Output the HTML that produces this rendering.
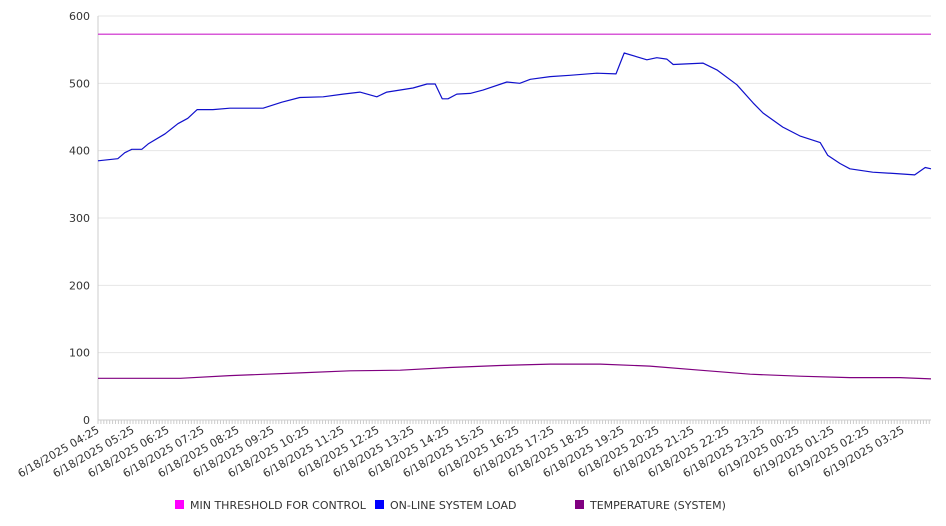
<!DOCTYPE html>
<html><head><meta charset="utf-8"><style>
html,body{margin:0;padding:0;background:#fff;}
svg{display:block;font-family:"DejaVu Sans","Liberation Sans",sans-serif;}
</style></head><body>
<svg id="chart" width="946" height="526" viewBox="0 0 946 526">
<g id="grid"></g>
<g id="yaxis"></g>
<g id="xaxis"></g>
<g id="series"></g>
<g id="legend"></g>
</svg>
<script>
const yTicks = [0,100,200,300,400,500,600];
const xTickLabels = ["6/18/2025 04:25","6/18/2025 05:25","6/18/2025 06:25","6/18/2025 07:25","6/18/2025 08:25","6/18/2025 09:25","6/18/2025 10:25","6/18/2025 11:25","6/18/2025 12:25","6/18/2025 13:25","6/18/2025 14:25","6/18/2025 15:25","6/18/2025 16:25","6/18/2025 17:25","6/18/2025 18:25","6/18/2025 19:25","6/18/2025 20:25","6/18/2025 21:25","6/18/2025 22:25","6/18/2025 23:25","6/19/2025 00:25","6/19/2025 01:25","6/19/2025 02:25","6/19/2025 03:25"];
// minutes since 6/18/2025 04:25
const loadMinutes = [0,34,46,58,75,86,115,137,154,170,197,226,283,315,346,386,420,449,478,495,540,564,578,590,600,615,638,660,701,723,741,775,809,855,888,902,941,958,975,986,1037,1061,1095,1123,1140,1174,1203,1238,1251,1272,1289,1328,1369,1400,1418,1428];
const loadValues = [385,388,397,402,402,410,425,440,448,461,461,463,463,472,479,480,484,487,480,487,493,499,499,477,477,484,485,490,502,500,506,510,512,515,514,545,535,538,536,528,530,520,498,471,456,435,422,412,393,381,373,368,366,364,375,373];
const tempMinutes = [0,141,226,346,432,518,603,689,775,861,946,1032,1118,1203,1289,1375,1428];
const tempValues = [62,62,66,70,73,74,78,81,83,83,80,74,68,65,63,63,61];
const thresholdValue = 573;
const totalMinutes = 1428;

const X0=98, X1=931, Y0=420, Y1=16;
const xs = m => X0 + m*(X1-X0)/totalMinutes;
const ys = v => Y0 - v*(Y0-Y1)/600;
const NS="http://www.w3.org/2000/svg";
function mk(tag, attrs, parent){const e=document.createElementNS(NS,tag);for(const k in attrs)e.setAttribute(k,attrs[k]);parent.appendChild(e);return e;}
const grid=document.getElementById('grid'), yaxis=document.getElementById('yaxis'), xaxis=document.getElementById('xaxis'), series=document.getElementById('series'), legend=document.getElementById('legend');

yTicks.forEach(v=>{
  if(v>0){const g=mk('line',{x1:X0,x2:X1,y1:ys(v),y2:ys(v),stroke:'#e6e6e6','stroke-width':1},grid);
  
  }
  const t=mk('text',{x:90,y:ys(v)+4,'text-anchor':'end','font-size':11,fill:'#333'},yaxis);
  t.textContent=v;
  
  
});
const ax=mk('line',{x1:X0,x2:X0,y1:Y1,y2:Y0,stroke:'#ccc','stroke-width':1},yaxis);


const bx=mk('line',{x1:X0,x2:X1,y1:Y0,y2:Y0,stroke:'#ccc','stroke-width':1},xaxis);


for(let m=0;m<=totalMinutes;m+=5){
  const tk=mk('line',{x1:xs(m),x2:xs(m),y1:Y0,y2:Y0+4,stroke:'#ccc','stroke-width':1},xaxis);
  
  
}
xTickLabels.forEach((s,i)=>{
  const x=xs(i*60)+2, y=Y0+12;
  const t=mk('text',{x:x,y:y,'text-anchor':'end','font-size':11,fill:'#333',transform:`rotate(-30 ${x} ${y})`},xaxis);
  t.textContent=s;
  
  
});

const th=mk('line',{x1:X0,x2:X1,y1:ys(thresholdValue),y2:ys(thresholdValue),stroke:'#cc22cc','stroke-width':1.2},series);


function line(mins,vals,color,name){
  const d=mins.map((m,i)=>(i?'L':'M')+xs(m).toFixed(1)+' '+ys(vals[i]).toFixed(1)).join(' ');
  const p=mk('path',{d:d,fill:'none',stroke:color,'stroke-width':1.2,'stroke-linejoin':'round'},series);
  
  
}
line(loadMinutes,loadValues,'#1010cc','online-system-load-line');
line(tempMinutes,tempValues,'#800080','temperature-line');

[["MIN THRESHOLD FOR CONTROL","#ff00ff",175,'legend-entry-threshold'],["ON-LINE SYSTEM LOAD","#0000ff",375,'legend-entry-load'],["TEMPERATURE (SYSTEM)","#800080",575,'legend-entry-temperature']].forEach(e=>{
  const g=mk('g',{},legend);
  
  
  mk('rect',{x:e[2],y:500,width:9,height:9,fill:e[1]},g);
  const t=mk('text',{x:e[2]+15,y:509,'font-size':11,fill:'#333'},g);
  t.textContent=e[0];
});
</script>
</body></html>
